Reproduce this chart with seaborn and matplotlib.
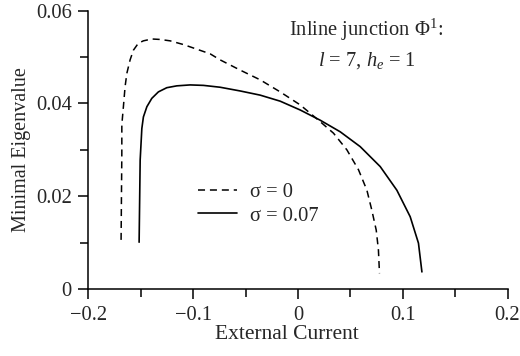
import numpy as np
import matplotlib
matplotlib.use('Agg')
import matplotlib.pyplot as plt
import seaborn as sns
import pandas as pd
from matplotlib.ticker import MultipleLocator

# sigma = 0 (dashed)
current_s0 = [-0.1688, -0.1681, -0.1681, -0.1666, -0.1650, -0.1633, -0.1602, -0.1570,
              -0.1523, -0.1475, -0.1395, -0.1316, -0.1220, -0.1093, -0.0965, -0.0838,
              -0.0743, -0.0552, -0.0361, -0.0170, 0.0021, 0.0196, 0.0339, 0.0467,
              0.0578, 0.0658, 0.0705, 0.0747, 0.0768, 0.0778]
eig_s0 = [0.0106, 0.0293, 0.0354, 0.0393, 0.0436, 0.0465, 0.0494, 0.0515,
          0.0530, 0.0535, 0.0539, 0.0538, 0.0535, 0.0527, 0.0517, 0.0507,
          0.0494, 0.0472, 0.0451, 0.0425, 0.0397, 0.0364, 0.0336, 0.0300,
          0.0257, 0.0213, 0.0170, 0.0127, 0.0084, 0.0034]

# sigma = 0.07 (solid)
current_s7 = [-0.1516, -0.1506, -0.1490, -0.1475, -0.1442, -0.1395, -0.1332, -0.1252,
              -0.1156, -0.1029, -0.0902, -0.0743, -0.0552, -0.0361, -0.0170, 0.0021,
              0.0212, 0.0403, 0.0594, 0.0785, 0.0944, 0.1071, 0.1150, 0.1183]
eig_s7 = [0.0101, 0.0278, 0.0346, 0.0371, 0.0393, 0.0411, 0.0425, 0.0434,
          0.0438, 0.0440, 0.0439, 0.0435, 0.0427, 0.0418, 0.0405, 0.0386,
          0.0364, 0.0339, 0.0307, 0.0264, 0.0213, 0.0156, 0.0099, 0.0037]

x_ticks = [-0.2, -0.1, 0, 0.1, 0.2]
x_labels = ['\u22120.2', '\u22120.1', '0', '0.1', '0.2']
y_ticks = [0, 0.02, 0.04, 0.06]
y_labels = ['0', '0.02', '0.04', '0.06']


def main():
    sns.set_style('ticks')
    plt.rcParams['font.family'] = ['Liberation Serif', 'DejaVu Serif']
    plt.rcParams['mathtext.fontset'] = 'custom'
    plt.rcParams['mathtext.rm'] = 'Liberation Serif'
    plt.rcParams['mathtext.it'] = 'Liberation Serif:italic'

    fs = 14.8
    fig = plt.figure(figsize=(5.2, 3.56), dpi=100)
    ax = fig.add_axes([0.17, 0.188, 0.806, 0.782])

    df0 = pd.DataFrame({'x': current_s0, 'y': eig_s0})
    df7 = pd.DataFrame({'x': current_s7, 'y': eig_s7})
    sns.lineplot(data=df0, x='x', y='y', ax=ax, sort=False, estimator=None, color='black',
                 lw=1.1, label='\u03c3 = 0')
    ax.lines[-1].set_dashes([4.6, 3.2])
    sns.lineplot(data=df7, x='x', y='y', ax=ax, sort=False, estimator=None, color='black',
                 lw=1.2, label='\u03c3 = 0.07')
    for ln in ax.lines:
        ln.set_solid_joinstyle('round')
        ln.set_dash_joinstyle('round')

    ax.set_xlim(-0.2, 0.2)
    ax.set_ylim(0, 0.06)
    ax.set_xticks(x_ticks)
    ax.set_xticklabels(x_labels, fontsize=fs)
    ax.set_yticks(y_ticks)
    ax.set_yticklabels(y_labels, fontsize=fs)
    ax.xaxis.set_minor_locator(MultipleLocator(0.05))
    ax.yaxis.set_minor_locator(MultipleLocator(0.01))
    ax.tick_params(which='both', direction='out', length=7, width=1.1, color='black')
    ax.tick_params(axis='x', which='major', pad=5)
    ax.tick_params(axis='y', which='major', pad=5)
    ax.tick_params(which='minor', length=6)
    for side in ['top', 'right']:
        ax.spines[side].set_visible(False)
    for side in ['left', 'bottom']:
        ax.spines[side].set_linewidth(1.1)
        ax.spines[side].set_color('black')

    ax.set_xlabel('External Current', fontsize=15.5, va='baseline')
    ax.xaxis.set_label_coords(0.474, -0.178)
    ax.set_ylabel('Minimal Eigenvalue', fontsize=14.5)
    ax.yaxis.set_label_coords(-0.138, 0.5)

    ax.text(0.663, 0.93, 'Inline junction \u03a6$^1$:', transform=ax.transAxes,
            ha='center', va='center', fontsize=fs)
    ax.text(0.665, 0.82, '$l$ = 7, $h_e$ = 1', transform=ax.transAxes,
            ha='center', va='center', fontsize=fs)

    ax.legend(loc='center left', bbox_to_anchor=(0.262, 0.305), frameon=False,
              fontsize=fs, handlelength=1.9, handletextpad=0.6, labelspacing=0.2,
              borderpad=0, borderaxespad=0)

    fig.savefig('out.png', dpi=100)


if __name__ == '__main__':
    main()
